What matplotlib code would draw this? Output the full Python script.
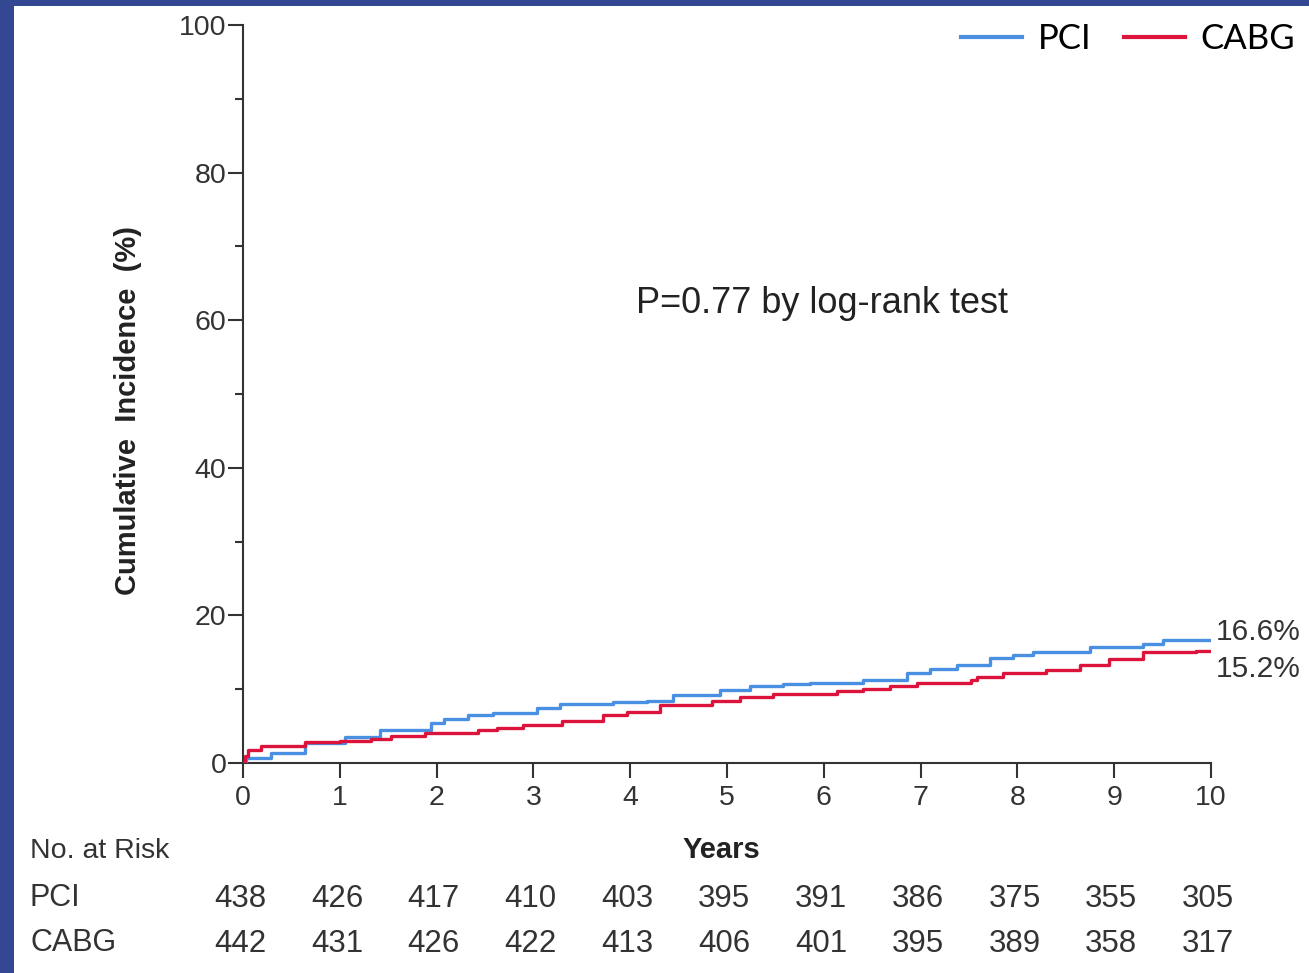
import matplotlib
matplotlib.use("Agg")
import matplotlib.pyplot as plt
from matplotlib.patches import Rectangle
from matplotlib.transforms import blended_transform_factory

# Kaplan-Meier style cumulative incidence (years, %)
pci_t = [0, 0.03, 0.29, 0.64, 1.05, 1.42, 1.94, 2.08, 2.32, 2.58, 3.04, 3.27,
         3.82, 4.17, 4.44, 4.93, 5.24, 5.58, 5.86, 6.40, 6.86, 7.10, 7.38,
         7.72, 7.95, 8.16, 8.75, 9.30, 9.50, 10.0]
pci_y = [0, 0.7, 1.4, 2.7, 3.5, 4.5, 5.4, 6.0, 6.5, 6.8, 7.5, 8.0,
         8.2, 8.4, 9.2, 9.9, 10.4, 10.7, 10.9, 11.2, 12.2, 12.8, 13.3,
         14.2, 14.6, 15.0, 15.7, 16.1, 16.6, 16.6]

cabg_t = [0, 0.02, 0.05, 0.19, 0.64, 1.0, 1.32, 1.53, 1.88, 2.43, 2.62, 2.89,
          3.30, 3.72, 3.97, 4.31, 4.85, 5.13, 5.48, 6.14, 6.40, 6.68, 6.96,
          7.52, 7.58, 7.85, 8.30, 8.65, 8.95, 9.30, 9.85, 10.0]
cabg_y = [0, 1.0, 1.8, 2.3, 2.8, 3.0, 3.3, 3.7, 4.1, 4.5, 4.8, 5.1,
          5.7, 6.5, 6.9, 7.9, 8.4, 8.9, 9.4, 9.7, 10.0, 10.4, 10.9,
          11.2, 11.7, 12.2, 12.6, 13.3, 14.1, 15.0, 15.2, 15.2]

years = list(range(0, 11))
risk_pci = [438, 426, 417, 410, 403, 395, 391, 386, 375, 355, 305]
risk_cabg = [442, 431, 426, 422, 413, 406, 401, 395, 389, 358, 317]

final_labels = ["16.6%", "15.2%"]

NAVY = "#334793"
BLUE = "#4a90e2"
RED = "#dc143c"
INK = "#333333"

plt.rcParams["font.family"] = ["Liberation Sans", "DejaVu Sans"]

W, H = 1309, 973
fig = plt.figure(figsize=(W / 100, H / 100), dpi=100, facecolor=NAVY)
fig.add_artist(Rectangle((14 / W, 0), 1 - 14 / W, 1 - 6 / H,
                         transform=fig.transFigure, facecolor="white",
                         edgecolor="none", zorder=-5))

ax = fig.add_axes([243 / W, 1 - 763 / H, (1211 - 243) / W, (763 - 25) / H])
ax.set_facecolor("none")

ax.step(pci_t, pci_y, where="post", color=BLUE, lw=2.4, label="PCI", zorder=3)
ax.step(cabg_t, cabg_y, where="post", color=RED, lw=2.4, label="CABG", zorder=3)

ax.set_xlim(0, 10)
ax.set_ylim(0, 100)
for s in ("top", "right"):
    ax.spines[s].set_visible(False)
for s in ("left", "bottom"):
    ax.spines[s].set_color(INK)
    ax.spines[s].set_linewidth(1.5)

ax.set_xticks(years)
ax.set_yticks(range(0, 101, 20))
ax.set_yticks(range(10, 100, 20), minor=True)
ax.tick_params(axis="both", which="major", length=11, width=1.5, color=INK,
               labelsize=20.5, labelcolor=INK, pad=1)
ax.tick_params(axis="x", which="major", pad=5)
ax.tick_params(axis="y", which="minor", length=6, width=1.5, color=INK)

fig.text(128 / W, 1 - 410 / H, "Cumulative  Incidence  (%)", rotation=90,
         ha="center", va="center", fontsize=21, fontweight="bold", color="#222222")

ax.text(5.98, 62.3, "P=0.77 by log-rank test", ha="center", va="center",
        fontsize=26, color="#222222")

ax.text(10.05, pci_y[-1] + 1.2, final_labels[0], ha="left", va="center",
        fontsize=21.5, color=INK, clip_on=False)
ax.text(10.05, cabg_y[-1] - 2.5, final_labels[1], ha="left", va="center",
        fontsize=21.5, color=INK, clip_on=False)

leg = ax.legend(loc="upper right", bbox_to_anchor=(1316 / W, 1 - 2 / H),
                bbox_transform=fig.transFigure, ncol=2, frameon=False,
                prop={"family": ["Lato", "DejaVu Sans"], "size": 25},
                handlelength=1.75, handletextpad=0.45, columnspacing=0.95,
                borderaxespad=0.2)
for line in leg.get_lines():
    line.set_linewidth(3)

# at-risk table
tr = blended_transform_factory(ax.transData, fig.transFigure)
fig.text(721 / W, 1 - 850 / H, "Years", ha="center", va="center",
         fontsize=21, fontweight="bold", color="#222222")
fig.text(30 / W, 1 - 851 / H, "No. at Risk", ha="left", va="center",
         fontsize=20.5, color=INK)
fig.text(30 / W, 1 - 898 / H, "PCI", ha="left", va="center",
         fontsize=22, color=INK)
fig.text(30 / W, 1 - 943 / H, "CABG", ha="left", va="center",
         fontsize=22, color=INK)
for yr, a, b in zip(years, risk_pci, risk_cabg):
    ax.text(yr - 0.03, 1 - 899 / H, str(a), transform=tr, ha="center",
            va="center", fontsize=22.5, color=INK)
    ax.text(yr - 0.03, 1 - 944 / H, str(b), transform=tr, ha="center",
            va="center", fontsize=22.5, color=INK)

fig.savefig("out.png", dpi=100, facecolor=NAVY)
